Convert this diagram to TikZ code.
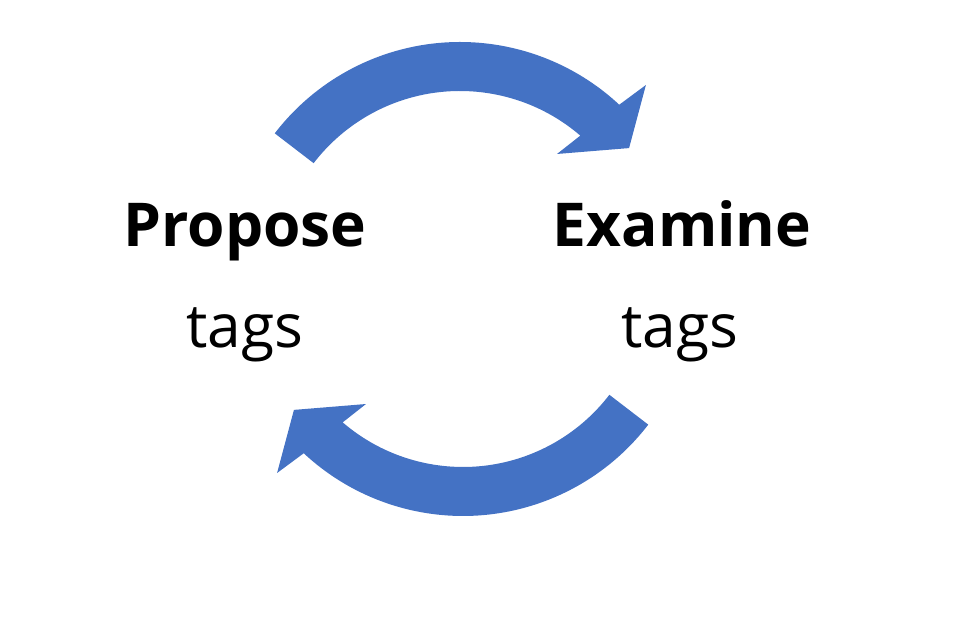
\documentclass[tikz,border=0pt]{standalone}
\usepackage{fontspec}
\setmainfont{Open Sans}
\usetikzlibrary{positioning}
\definecolor{accent}{HTML}{4472C4}

\begin{document}
\begin{tikzpicture}[x=0.025cm,y=0.025cm,
  word/.style={anchor=base,font=\fontsize{43}{50}\selectfont},
  head/.style={anchor=base,font=\fontsize{43}{50}\selectfont\bfseries},
  turn/.style={fill=accent}]
\useasboundingbox (0,0) rectangle (960,642);
% the two curved block arrows, the lower one is the upper one turned round
\foreach \rot in {0,180}
  \fill[turn,rotate around={\rot:(461.5,363)},shift={(460,366.5)}]
    (142.5:233.5) arc[start angle=142.5,end angle=47,radius=233.5]
    -- (45.7:266.2) -- (37:211.7) -- (51.4:155.5) -- (49.3:184.5)
    arc[start angle=49.3,end angle=142.5,radius=184.5] -- cycle;
\node[head] (propose) at (245,395) {Propose};
\node[word] (ptags) at (245,294) {tags};
\node[head] (examine) at (682,395) {Examine};
\node[word] (etags) at (680,294) {tags};
\end{tikzpicture}
\end{document}
